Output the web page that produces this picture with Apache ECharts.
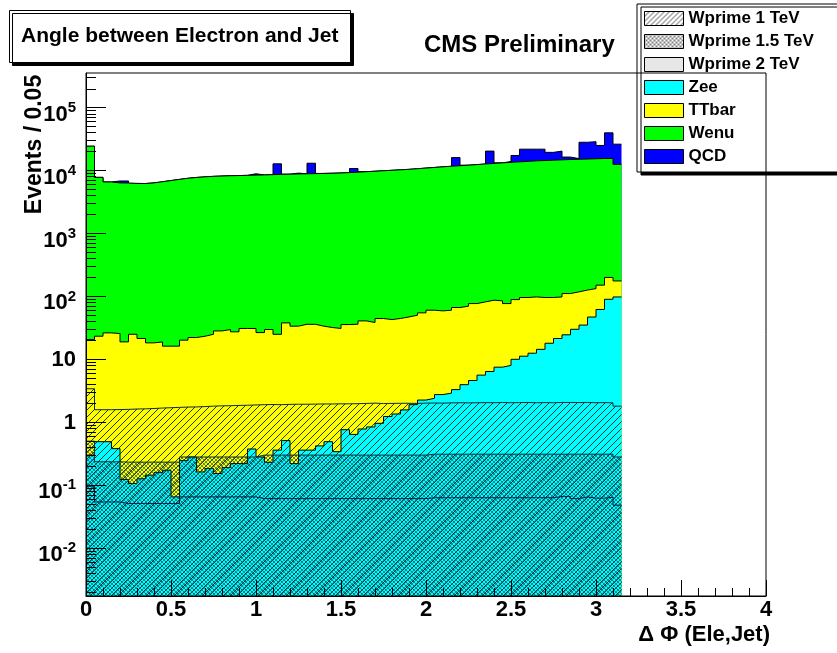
<!DOCTYPE html>
<html><head><meta charset="utf-8">
<script src="https://cdn.jsdelivr.net/npm/echarts@6/dist/echarts.min.js"></script>
<style>html,body{margin:0;padding:0;background:#fff}#c{width:837px;height:653px}</style>
</head><body><div id="c"></div>
<script>
// ---- data (63 bins of width 0.05 from 0 to 3.15) ----
const binWidth = 0.05;
const nBins = 63;
const zee = [0.30,0.49,0.49,0.38,0.123,0.106,0.126,0.144,0.158,0.172,
  0.065,0.245,0.28,0.162,0.183,0.153,0.19,0.22,0.22,0.375,
  0.28,0.23,0.36,0.51,0.22,0.36,0.36,0.42,0.49,0.34,
  0.76,0.64,0.78,0.84,0.96,1.23,1.35,1.57,1.9,2.25,
  2.4,2.75,2.9,3.3,3.95,4.6,5.6,6.4,7.5,8.0,
  10,11.2,12.5,14.4,18,21.4,24.5,30,35,47,
  62,90,98];
const ttbar = [20.3,22.8,25.8,25.3,18.8,24.9,21.3,18.1,18.7,16.0,
  16.1,19.9,21.9,23.1,24.8,28.1,29.5,27.1,30.7,30.5,
  26.3,29.5,24.6,37.4,33.4,35.7,35.6,33.2,31.5,30.6,
  34.9,35.5,40.0,37.6,43.5,41.6,43.2,45.6,48.3,52.5,
  57.9,56.1,57.4,63.3,65.9,72.3,76.2,80.6,77.5,68.9,
  79,84.8,85.5,81.6,78,76.6,86.5,88,91,86,
  89,110,78];
const wenu = [24380,7780,6570,6350,6330,6225,6210,6360,6630,6930,
  7230,7530,7760,7930,8080,8170,8250,8310,8370,8440,
  8510,8590,8680,8740,8820,8860,8910,8980,9050,9130,
  9260,9410,9560,9730,9900,10070,10250,10420,10660,10910,
  11160,11420,11660,11880,12120,12380,12650,12910,13190,13440,
  13680,13930,14190,14370,14550,14720,14890,15020,15150,15290,
  15410,15400,12420];
const qcd = [0,0,0,460,490,0,0,0,0,0,
  0,0,0,0,0,0,0,0,0,430,
  0,0,4100,0,270,0,4150,0,0,0,
  0,1350,0,0,0,0,0,0,0,0,
  0,0,0,4150,0,0,0,7400,0,430,
  3630,7870,7610,7430,4850,5580,1400,360,12920,13380,
  9540,24200,13700];
const wprime1 = [3.4,1.58,1.58,1.59,1.60,1.62,1.63,1.65,1.68,1.70,
  1.72,1.74,1.75,1.77,1.80,1.82,1.83,1.85,1.86,1.88,
  1.90,1.91,1.90,1.92,1.93,1.93,1.94,1.95,1.95,1.96,
  1.96,1.97,1.99,2.01,1.98,1.99,2.00,2.00,1.99,2.01,
  2.02,2.01,2.03,2.04,2.03,2.04,2.05,2.04,2.06,2.04,
  2.05,2.06,2.04,2.05,2.04,2.06,2.06,2.05,2.06,2.04,
  2.05,2.03,1.80];
const wprime15 = [0.50,0.235,0.235,0.235,0.232,0.232,0.232,0.232,0.232,0.232,
  0.232,0.28,0.28,0.28,0.28,0.28,0.28,0.28,0.28,0.28,
  0.30,0.30,0.30,0.30,0.30,0.30,0.30,0.30,0.30,0.30,
  0.30,0.30,0.30,0.30,0.30,0.30,0.30,0.30,0.30,0.30,
  0.31,0.31,0.31,0.31,0.31,0.31,0.31,0.31,0.31,0.31,
  0.31,0.31,0.31,0.31,0.31,0.31,0.31,0.31,0.31,0.31,
  0.31,0.31,0.28];
const wprime2 = [0.096,0.054,0.054,0.054,0.051,0.051,0.051,0.051,0.051,0.051,
  0.051,0.065,0.065,0.065,0.065,0.065,0.065,0.065,0.065,0.065,
  0.061,0.061,0.061,0.061,0.061,0.061,0.061,0.061,0.061,0.061,
  0.061,0.061,0.061,0.061,0.061,0.061,0.061,0.061,0.061,0.061,
  0.063,0.063,0.063,0.063,0.063,0.063,0.063,0.063,0.063,0.063,
  0.063,0.063,0.063,0.063,0.063,0.066,0.066,0.061,0.065,0.062,
  0.062,0.064,0.048];
const yLabelValues = [0.01,0.1,1,10,100,1000,10000,100000];
const legendNames = ['Wprime 1 TeV','Wprime 1.5 TeV','Wprime 2 TeV','Zee','TTbar','Wenu','QCD'];
const yMin = 0.001726, yMax = 356000;

// ---- helpers ----
const FONT = 'Liberation Sans, Arial, Helvetica, sans-serif';
const edges = [];
for (let i = 0; i <= nBins; i++) edges.push(+(i * binWidth).toFixed(2));
function stepData(vals) {
  const d = vals.map((v, i) => [edges[i], v]);
  d.push([edges[nBins], vals[nBins - 1]]);
  return d;
}
function cumulate(...arrs) { return arrs[0].map((_, i) => arrs.reduce((s, a) => s + a[i], 0)); }
function pattern(size, pts, color) {
  const c = document.createElement('canvas');
  c.width = c.height = size;
  const g = c.getContext('2d');
  g.fillStyle = color;
  pts.forEach(p => g.fillRect(p[0], p[1], 1, 1));
  return { image: c, repeat: 'repeat' };
}
const diagPat = pattern(7, [[0,6],[1,5],[2,4],[3,3],[4,2],[5,1],[6,0]], 'rgba(10,35,40,0.9)');
const diagLegPat = pattern(5, [[0,4],[1,3],[2,2],[3,1],[4,0]], 'rgba(30,30,30,0.8)');
const crossPat = pattern(4, [[0,0],[1,1],[2,2],[3,3],[3,0],[2,1],[1,2],[0,3]], 'rgba(0,60,75,0.6)');
const crossLegPat = pattern(4, [[0,0],[1,1],[2,2],[3,3],[3,0],[2,1],[1,2],[0,3]], 'rgba(30,30,30,0.55)');
const dotPat = pattern(4, [[1,1]], 'rgba(0,20,50,0.4)');
const dotLegPat = pattern(2, [[0,0]], 'rgba(40,40,40,0.45)');

const zeeTop = zee;
const ttTop = cumulate(zee, ttbar);
const wenuTop = cumulate(zee, ttbar, wenu);
const qcdTop = cumulate(zee, ttbar, wenu, qcd);

function hist(name, vals, fill, line, z) {
  return {
    name, type: 'line', step: 'end', data: stepData(vals), symbol: 'none', showSymbol: false,
    lineStyle: { color: line, width: 1 }, areaStyle: { color: fill, opacity: 1, origin: 'start' },
    itemStyle: { color: fill }, z: z, silent: true, animation: false
  };
}

const yMinor = [];
for (let d = -3; d <= 5; d++) for (let m = 2; m <= 9; m++) {
  const v = m * Math.pow(10, d);
  if (v > yMin && v < yMax) yMinor.push(v);
}
function yFmt(v) {
  const e = Math.round(Math.log10(v));
  if (e === 0) return '{b|1}';
  if (e === 1) return '{b|10}';
  return '{b|10}{s|' + e + '}';
}
const txt = (size) => ({ fontFamily: FONT, fontWeight: 'bold', fontSize: size, color: '#000' });

const chart = echarts.init(document.getElementById('c'), null, { renderer: 'canvas' });
chart.setOption({
  animation: false,
  backgroundColor: '#fff',
  textStyle: { fontFamily: FONT },
  title: [
    { text: 'Angle between Electron and Jet', left: 9, top: 10, padding: [16, 12, 16, 12],
      backgroundColor: '#fff', borderColor: '#000', borderWidth: 1,
      shadowColor: '#000', shadowOffsetX: 3, shadowOffsetY: 3, shadowBlur: 0,
      textStyle: txt(21) },
    { text: 'CMS Preliminary', left: 424, top: 33, padding: 0, textStyle: txt(24) },
    { text: 'Δ Φ (Ele,Jet)', right: 67, top: 624, padding: 0, textStyle: txt(22) }
  ],
  legend: {
    orient: 'vertical', left: 637, top: 4, icon: 'rect', selectedMode: false,
    itemWidth: 39, itemHeight: 14, itemGap: 6,
    padding: [6, 80, 7, 7],
    backgroundColor: '#fff', borderColor: '#000', borderWidth: 1,
    shadowColor: '#000', shadowOffsetX: 4, shadowOffsetY: 3, shadowBlur: 0,
    textStyle: txt(17),
    itemStyle: { borderColor: '#000', borderWidth: 1 },
    data: [
      { name: legendNames[0], itemStyle: { color: diagLegPat } },
      { name: legendNames[1], itemStyle: { color: crossLegPat } },
      { name: legendNames[2], itemStyle: { color: dotLegPat } },
      { name: legendNames[3], itemStyle: { color: '#00ffff' } },
      { name: legendNames[4], itemStyle: { color: '#ffff00' } },
      { name: legendNames[5], itemStyle: { color: '#00ff00' } },
      { name: legendNames[6], itemStyle: { color: '#0000ff' } }
    ]
  },
  grid: { left: 86, right: 71, top: 73, bottom: 57, containLabel: false, outerBoundsMode: 'none',
    show: true, backgroundColor: 'transparent', borderColor: '#000', borderWidth: 1, z: 10 },
  xAxis: {
    type: 'value', min: 0, max: 4, interval: 0.5, z: 10,
    axisLine: { lineStyle: { color: '#000', width: 1 } },
    axisTick: { inside: true, length: 16, lineStyle: { color: '#000' } },
    minorTick: { show: true, splitNumber: 5, length: 8, lineStyle: { color: '#000' } },
    splitLine: { show: false }, minorSplitLine: { show: false },
    axisLabel: Object.assign({ margin: 3 }, txt(22))
  },
  yAxis: [{
    type: 'log', logBase: 10, min: yMin, max: yMax, z: 10,
    axisLine: { show: true, lineStyle: { color: '#000', width: 1 } },
    axisTick: { show: true, inside: true, length: 20, customValues: yLabelValues, lineStyle: { color: '#000' } },
    minorTick: { show: false }, splitLine: { show: false },
    axisLabel: {
      customValues: yLabelValues, formatter: yFmt, margin: 10,
      rich: {
        b: { fontFamily: FONT, fontWeight: 'bold', fontSize: 22, color: '#000', verticalAlign: 'bottom', lineHeight: 24 },
        s: { fontFamily: FONT, fontWeight: 'bold', fontSize: 15, color: '#000', lineHeight: 36 }
      }
    },
    name: 'Events / 0.05', nameLocation: 'middle', nameGap: 40, nameMoveOverlap: false,
    nameTextStyle: Object.assign({ padding: [0, 0, 0, 380] }, txt(23))
  }, {
    type: 'log', logBase: 10, min: yMin, max: yMax, position: 'left', z: 10,
    axisLine: { show: false }, axisLabel: { show: false }, splitLine: { show: false },
    axisTick: { show: true, inside: true, length: 10, customValues: yMinor, lineStyle: { color: '#000' } }
  }],
  series: [
    hist('QCD', qcdTop, '#0000ff', '#000', 2),
    hist('Wenu', wenuTop, '#00ff00', '#000', 3),
    hist('TTbar', ttTop, '#ffff00', '#000', 4),
    hist('Zee', zeeTop, '#00ffff', '#000', 5),
    hist('Wprime 1 TeV', wprime1, diagPat, '#0d2a30', 6),
    hist('Wprime 1.5 TeV', wprime15, crossPat, '#0d3038', 7),
    hist('Wprime 2 TeV', wprime2, dotPat, '#0a1a4a', 8)
  ]
});
</script></body></html>
